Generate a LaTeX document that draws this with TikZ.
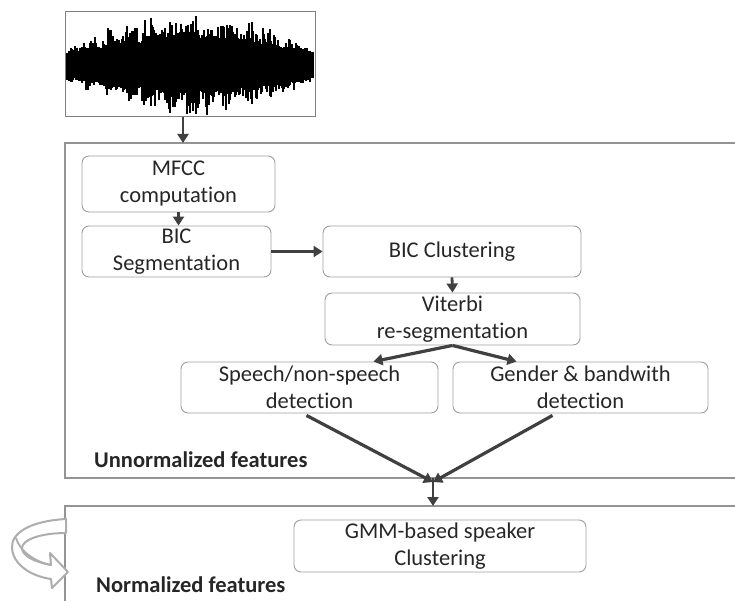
\documentclass[tikz,border=0pt]{standalone}
\usepackage{fontspec}
\setmainfont[Ligatures=NoCommon]{Carlito}
\usetikzlibrary{arrows.meta}
\usetikzlibrary{positioning}
\usetikzlibrary{calc}

\begin{document}
\begin{tikzpicture}[
  x=1pt,y=-1pt,
  every node/.style={font=\fontsize{22.5}{27}\selectfont,text=black!85},
  stage/.style={draw=black!38,rounded corners=7pt,line width=0.9pt,align=center,inner sep=0pt},
  panel/.style={draw=black!42,line width=1.3pt},
  flow/.style={draw=black!75,line width=2.8pt,-{Triangle[length=9pt,width=11pt]}},
  tag/.style={font=\fontsize{22.5}{27}\selectfont\bfseries,anchor=west,inner sep=0pt},
  loopback/.style={draw=black!32,fill=white,line width=2pt,line join=round}
]
\useasboundingbox (0,0) rectangle (735,601);

% input signal
\node[draw=black!50,line width=1pt,minimum width=250,minimum height=105,inner sep=0pt] (wave) at (190,64.5) {};
\pgfmathsetseed{23}
\foreach \x in {67,68,...,313}{
  \pgfmathsetmacro\env{8+44*sin(0.7143*(\x-64))*(0.65+0.35*abs(sin(9*\x)))}
  \pgfmathsetmacro\up{min(50,\env*(0.4+0.6*rnd*rnd)+8)}
  \pgfmathsetmacro\dn{min(50,\env*(0.4+0.6*rnd*rnd)+8)}
  \draw[line width=1.1pt] (\x,65-\up) -- (\x,65+\dn);
}
\fill (66,54) rectangle (314,76);

% panels
\draw[panel] (735,143) -- (65,143) -- (65,478) -- (735,478);
\draw[panel] (735,506) -- (65,506) -- (65,601);

% stages
\node[stage,minimum width=193,minimum height=56] (mfcc) at (178.5,184) {MFCC\\computation};
\node[stage,minimum width=189,minimum height=51] (bicseg) at (176.5,251.5) {BIC\\Segmentation};
\node[stage,minimum width=258,minimum height=51] (biccl) at (452,251.5) {BIC Clustering};
\node[stage,minimum width=255,minimum height=52] (viterbi) at (452.5,319) {Viterbi\\re-segmentation};
\node[stage,minimum width=257,minimum height=51] (speech) at (309.5,387.5) {Speech/non-speech\\detection};
\node[stage,minimum width=255,minimum height=51] (gender) at (580.5,387.5) {Gender \& bandwith\\detection};
\node[stage,minimum width=292,minimum height=52] (gmm) at (440,546) {GMM-based speaker\\Clustering};

\node[tag] (unnorm) at (94,460) {Unnormalized features};
\node[tag] (norm) at (96,585) {Normalized features};

% connectors
\coordinate (in1) at (183,143);
\coordinate (merge) at (433,482);
\coordinate (in2) at (433,506);
\draw[flow] (wave.south -| in1) -- (in1);
\draw[flow] (mfcc.south) -- (mfcc.south |- bicseg.north);
\draw[flow] (bicseg.east) -- (biccl.west);
\draw[flow] (biccl.south) -- (viterbi.north);
\draw[flow,line width=3.2pt] (viterbi.south) -- ($(speech.north)+(64,0)$);
\draw[flow,line width=3.2pt] (viterbi.south) -- ($(gender.north)+(-64,0)$);
\draw[flow,line width=3.2pt] ($(speech.south)+(-3,2)$) -- (merge);
\draw[flow,line width=3.2pt] ($(gender.south)+(-28,2)$) -- (merge);
\draw[flow] (433,478) -- (in2);

% loop on the normalized panel
\draw[loopback] (66,519) .. controls (30,521) and (11,533) .. (12,548)
  .. controls (13,564) and (30,576) .. (51,579) -- (52,588) -- (68,572) -- (50,553) -- (51,565)
  .. controls (35,562) and (22,556) .. (22,548)
  .. controls (22,540) and (40,533) .. (66,533) -- cycle;
\draw[draw=black!32,line width=1.8pt] (16,538) .. controls (20,552) and (36,562) .. (51,565);
\end{tikzpicture}
\end{document}
